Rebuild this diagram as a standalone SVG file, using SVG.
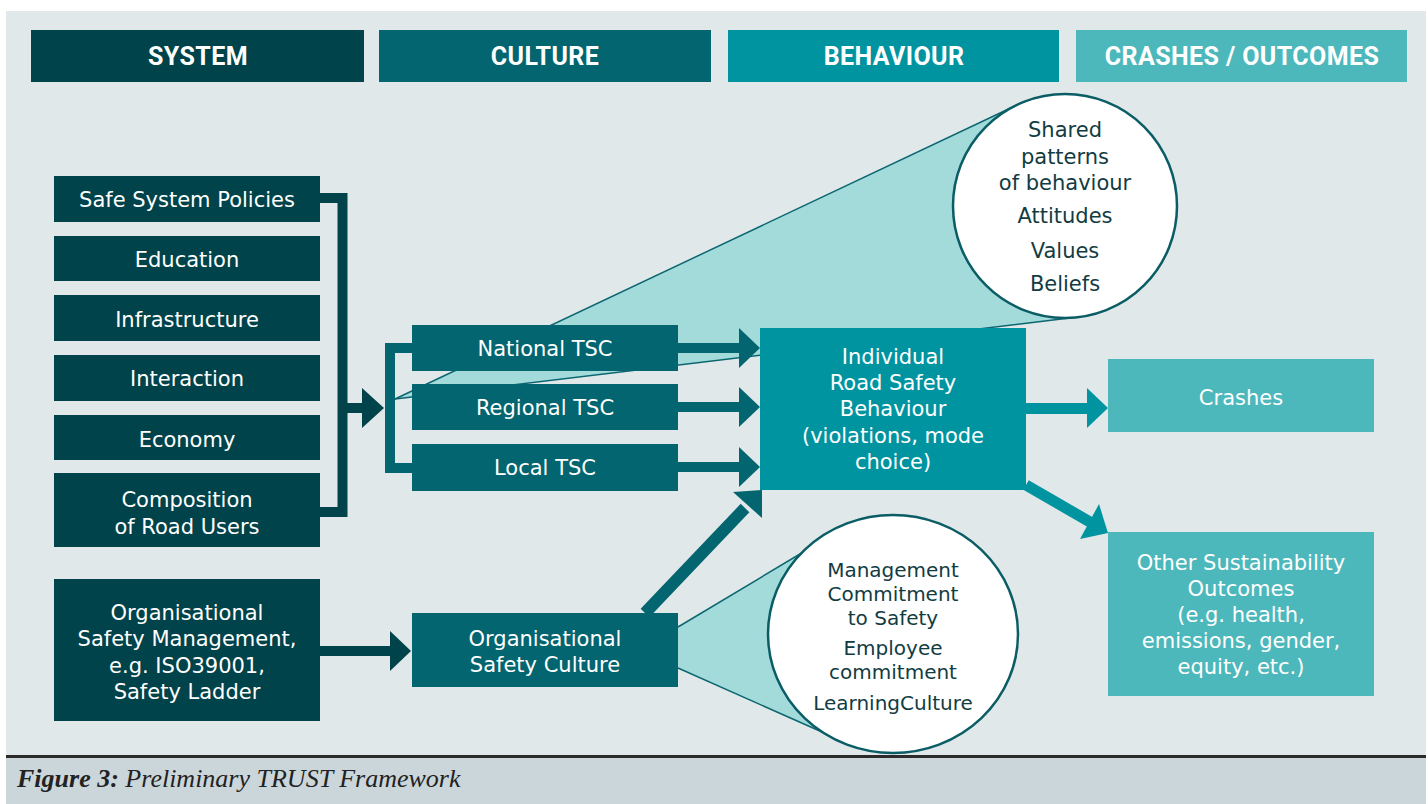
<svg xmlns="http://www.w3.org/2000/svg" width="1428" height="804" viewBox="0 0 1428 804">
<style>
.hdr{font-family:Roboto,"Liberation Sans",sans-serif;font-weight:700;font-size:25px;fill:#ffffff;text-anchor:middle;letter-spacing:0.4px}
.bt{font-family:"DejaVu Sans","Open Sans","Liberation Sans",sans-serif;font-size:21px;fill:#ffffff;text-anchor:middle}
.ct{font-family:"DejaVu Sans","Open Sans","Liberation Sans",sans-serif;font-size:21px;fill:#123c42;text-anchor:middle}
.ct2{font-family:"DejaVu Sans","Open Sans","Liberation Sans",sans-serif;font-size:20px;fill:#123c42;text-anchor:middle}
.sys{fill:#00434a}
.cul{fill:#02656f}
.beh{fill:#0094a0}
.out{fill:#4cb8bb}
.bubble{fill:#ffffff;stroke:#0b5d65;stroke-width:2.5}
.cone{fill:#a3dbdb}
.coneline{stroke:#0b6670;stroke-width:1.5;fill:none}
</style>
<rect x="0" y="0" width="1428" height="804" fill="#ffffff"/>
<rect x="6" y="11" width="1420" height="745" fill="#e1e8ea"/>
<rect x="6" y="755" width="1420" height="3" fill="#2b2b2b"/>
<rect x="6" y="758" width="1420" height="46" fill="#cbd6db"/>
<text x="17" y="787" font-family="Liberation Serif,serif" font-size="26" font-style="italic" fill="#222"><tspan font-weight="700">Figure 3:</tspan> Preliminary TRUST Framework</text>

<g id="headers">
<rect x="31" y="30" width="333" height="52" class="sys"/>
<text x="198" y="65" class="hdr">SYSTEM</text>
<rect x="379" y="30" width="332" height="52" class="cul"/>
<text x="545" y="65" class="hdr">CULTURE</text>
<rect x="728" y="30" width="331" height="52" class="beh"/>
<text x="894" y="65" class="hdr">BEHAVIOUR</text>
<rect x="1076" y="30" width="331" height="52" class="out"/>
<text x="1242" y="65" class="hdr">CRASHES / OUTCOMES</text>
</g>

<g id="cones">
<polygon class="cone" points="395,399 1017,105 1065,206 1078,317"/>
<line class="coneline" x1="395" y1="399" x2="1017" y2="105"/>
<line class="coneline" x1="395" y1="399" x2="1078" y2="317"/>
<polygon class="cone" points="678,627 810,548 893,634 822,732 678,668"/>
<line class="coneline" x1="678" y1="627" x2="810" y2="548"/>
<line class="coneline" x1="678" y1="668" x2="822" y2="732"/>
</g>

<g id="connectors">
<path d="M320,198 H342.5 V512 H320" fill="none" stroke="#00434a" stroke-width="10"/>
<rect x="347" y="403" width="16" height="10" fill="#00434a"/>
<polygon points="362,388 384,408 362,428" fill="#00434a"/>
<path d="M412,348 H390 V468 H412" fill="none" stroke="#02656f" stroke-width="10"/>
<rect x="678" y="343" width="62" height="10" fill="#02656f"/>
<polygon points="739,328 760,348 739,368" fill="#02656f"/>
<rect x="678" y="402" width="62" height="10" fill="#02656f"/>
<polygon points="739,387 760,407 739,427" fill="#02656f"/>
<rect x="678" y="462" width="62" height="10" fill="#02656f"/>
<polygon points="739,447 760,467 739,487" fill="#02656f"/>
<rect x="320" y="646" width="71" height="10" fill="#00434a"/>
<polygon points="390,631 411,651 390,671" fill="#00434a"/>
<line x1="645" y1="613" x2="745" y2="508" stroke="#02656f" stroke-width="12"/>
<polygon points="762,490 733,492 762,518" fill="#02656f"/>
<rect x="1026" y="403" width="62" height="11" fill="#0094a0"/>
<polygon points="1087,388 1108,408 1087,428" fill="#0094a0"/>
<line x1="1026" y1="485" x2="1090" y2="522" stroke="#0094a0" stroke-width="11"/>
<polygon points="1108,533 1099,504 1080,539" fill="#0094a0"/>
</g>

<g id="n-safe"><rect x="54" y="176" width="266" height="46" class="sys"/><text x="187" y="207" class="bt">Safe System Policies</text></g>
<g id="n-education"><rect x="54" y="236" width="266" height="45" class="sys"/><text x="187" y="267" class="bt">Education</text></g>
<g id="n-infra"><rect x="54" y="295" width="266" height="46" class="sys"/><text x="187" y="327" class="bt">Infrastructure</text></g>
<g id="n-interaction"><rect x="54" y="355" width="266" height="46" class="sys"/><text x="187" y="386" class="bt">Interaction</text></g>
<g id="n-economy"><rect x="54" y="415" width="266" height="45" class="sys"/><text x="187" y="447" class="bt">Economy</text></g>
<g id="n-composition"><rect x="54" y="473" width="266" height="74" class="sys"/><text x="187" y="507" class="bt">Composition</text><text x="187" y="534" class="bt">of Road Users</text></g>
<g id="n-orgmgmt"><rect x="54" y="579" width="266" height="142" class="sys"/>
<text x="187" y="620" class="bt">Organisational</text><text x="187" y="646" class="bt">Safety Management,</text><text x="187" y="673" class="bt">e.g. ISO39001,</text><text x="187" y="699" class="bt">Safety Ladder</text></g>

<g id="n-national"><rect x="412" y="325" width="266" height="46" class="cul"/><text x="545" y="356" class="bt">National TSC</text></g>
<g id="n-regional"><rect x="412" y="384" width="266" height="46" class="cul"/><text x="545" y="415" class="bt">Regional TSC</text></g>
<g id="n-local"><rect x="412" y="444" width="266" height="47" class="cul"/><text x="545" y="475" class="bt">Local TSC</text></g>
<g id="n-orgculture"><rect x="412" y="613" width="266" height="74" class="cul"/><text x="545" y="646" class="bt">Organisational</text><text x="545" y="672" class="bt">Safety Culture</text></g>

<g id="n-individual"><rect x="760" y="328" width="266" height="162" class="beh"/>
<text x="893" y="364" class="bt">Individual</text><text x="893" y="390" class="bt">Road Safety</text><text x="893" y="416" class="bt">Behaviour</text><text x="893" y="443" class="bt">(violations, mode</text><text x="893" y="469" class="bt">choice)</text></g>

<g id="n-crashes"><rect x="1108" y="359" width="266" height="73" class="out"/><text x="1241" y="405" class="bt">Crashes</text></g>
<g id="n-other"><rect x="1108" y="532" width="266" height="164" class="out"/>
<text x="1241" y="570" class="bt">Other Sustainability</text><text x="1241" y="596" class="bt">Outcomes</text><text x="1241" y="622" class="bt">(e.g. health,</text><text x="1241" y="648" class="bt">emissions, gender,</text><text x="1241" y="674" class="bt">equity, etc.)</text></g>

<g id="n-bubble-shared"><circle cx="1065" cy="206" r="112" class="bubble"/>
<text x="1065" y="137" class="ct">Shared</text><text x="1065" y="164" class="ct">patterns</text><text x="1065" y="190" class="ct">of behaviour</text><text x="1065" y="223" class="ct">Attitudes</text><text x="1065" y="258" class="ct">Values</text><text x="1065" y="291" class="ct">Beliefs</text></g>

<g id="n-bubble-org"><ellipse cx="893" cy="634" rx="125" ry="119" class="bubble"/>
<text x="893" y="577" class="ct2">Management</text><text x="893" y="601" class="ct2">Commitment</text><text x="893" y="625" class="ct2">to Safety</text><text x="893" y="655" class="ct2">Employee</text><text x="893" y="679" class="ct2">commitment</text><text x="893" y="710" class="ct2">LearningCulture</text></g>
</svg>
